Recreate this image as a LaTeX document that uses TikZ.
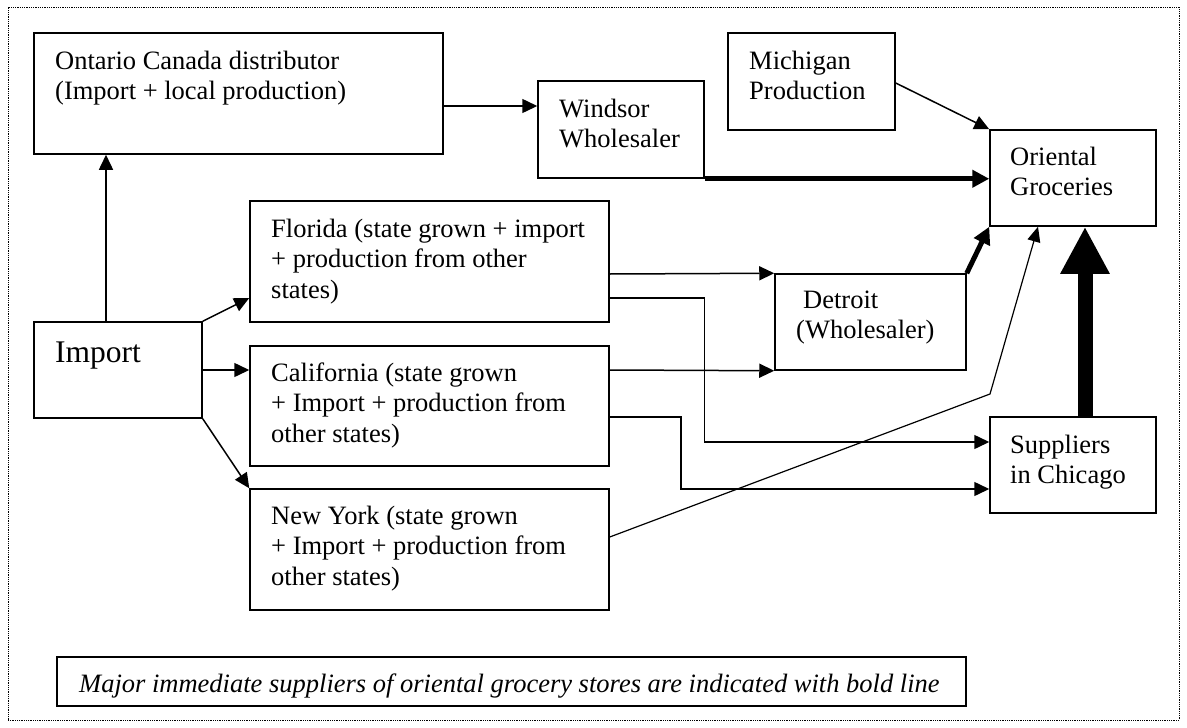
\documentclass[tikz,border=0pt]{standalone}
\usepackage{fontspec}
\setmainfont{Liberation Serif}
\usetikzlibrary{arrows.meta}
\begin{document}
\begin{tikzpicture}[x=1pt,y=-1pt,
 box/.style={draw, line width=1.5pt, inner sep=0pt},
 lbl/.style={anchor=base west, inner sep=0pt, font=\fontsize{26.5}{30.6}\selectfont, align=left},
 thinarr/.style={line width=1.5pt, -{Triangle[length=15pt,width=14pt]}},
 boldarr/.style={line width=5pt, -{Triangle[length=17pt,width=17pt]}},
 heavyarr/.style={line width=15pt, -{Triangle[length=47pt,width=46pt]}},
]
\useasboundingbox (0,0) rectangle (1187,728);
\node[draw, densely dotted, line width=0.8pt, inner sep=0pt, minimum width=1171pt, minimum height=713pt] (frame) at (593.5,363.5) {};

\node[box, minimum width=409pt, minimum height=121pt] (ont) at (238.5,93.5) {};
\node[box, minimum width=166pt, minimum height=97pt] (win) at (621,129.5) {};
\node[box, minimum width=167pt, minimum height=97pt] (mich) at (811.5,81.5) {};
\node[box, minimum width=166pt, minimum height=96pt] (ori) at (1073,178) {};
\node[box, minimum width=359pt, minimum height=121pt] (flo) at (429.5,261.5) {};
\node[box, minimum width=168pt, minimum height=96pt] (imp) at (118,370) {};
\node[box, minimum width=359pt, minimum height=120pt] (cal) at (429.5,406) {};
\node[box, minimum width=359pt, minimum height=121pt] (ny) at (429.5,549.5) {};
\node[box, minimum width=191pt, minimum height=96pt] (det) at (870.5,322) {};
\node[box, minimum width=166pt, minimum height=96pt] (sup) at (1073,465) {};
\node[box, minimum width=909pt, minimum height=49pt] (leg) at (511.5,681.5) {};

% multi-line labels: anchor is the baseline of the last line
\node[lbl] (tont) at (55,99.6) {Ontario Canada distributor\\(Import + local production)};
\node[lbl] (twin) at (559,147.6) {Windsor\\Wholesaler};
\node[lbl] (tmich) at (749,99.6) {Michigan\\Production};
\node[lbl] (tori) at (1010,195.6) {Oriental\\Groceries};
\node[lbl] (tflo) at (271,298.2) {Florida (state grown + import\\+ production from other\\states)};
\node[lbl, font=\fontsize{31.5}{36}\selectfont] (timp) at (55,362) {Import};
\node[lbl] (tcal) at (271,442.2) {California (state grown\\+ Import + production from\\other states)};
\node[lbl] (tny) at (271,585.2) {New York (state grown\\+ Import + production from\\other states)};
\node[lbl] (tdet) at (796,338.6) {\hspace*{7pt}Detroit\\(Wholesaler)};
\node[lbl] (tsup) at (1010,483.6) {Suppliers\\in Chicago};
\begin{scope}
\clip (57,657) rectangle (966,701);
\node[lbl, font=\itshape\fontsize{26.5}{30.6}\selectfont] (tleg) at (79,692) {Major immediate suppliers of oriental grocery stores are indicated with bold line};
\end{scope}

\draw[thinarr] (ont.east |- 0,106) -- (win.west |- 0,106);
\draw[thinarr] (imp.north -| 106,0) -- (ont.south -| 106,0);
\draw[thinarr] (imp.north east) -- (flo.west |- 0,298);
\draw[thinarr] (imp.east) -- (cal.west |- imp.east);
\draw[thinarr] (imp.south east) -- (ny.north west);
\draw[thinarr] (flo.east |- 0,274) -- (det.north west);
\draw[thinarr] (cal.east |- 0,370) -- (det.south west);
\draw[thinarr] (flo.east |- 0,298) -| (704.5,442) -- (sup.west |- 0,442);
\draw[thinarr] (cal.east |- 0,417) -| (681,489) -- (sup.west |- 0,489);
\draw[thinarr] (mich.east |- 0,83) -- (ori.north west);
\draw[line width=1.2pt, -{Triangle[length=15pt,width=13pt]}] (ny.east |- 0,537) -- (990,394) -- (ori.south -| 1038,0);
\draw[boldarr] (win.south east) -- (ori.west |- win.south east);
\draw[boldarr] (det.north east) -- (ori.south west);
\draw[heavyarr] (sup.north -| 1085,0) -- (ori.south -| 1085,0);
\end{tikzpicture}
\end{document}
